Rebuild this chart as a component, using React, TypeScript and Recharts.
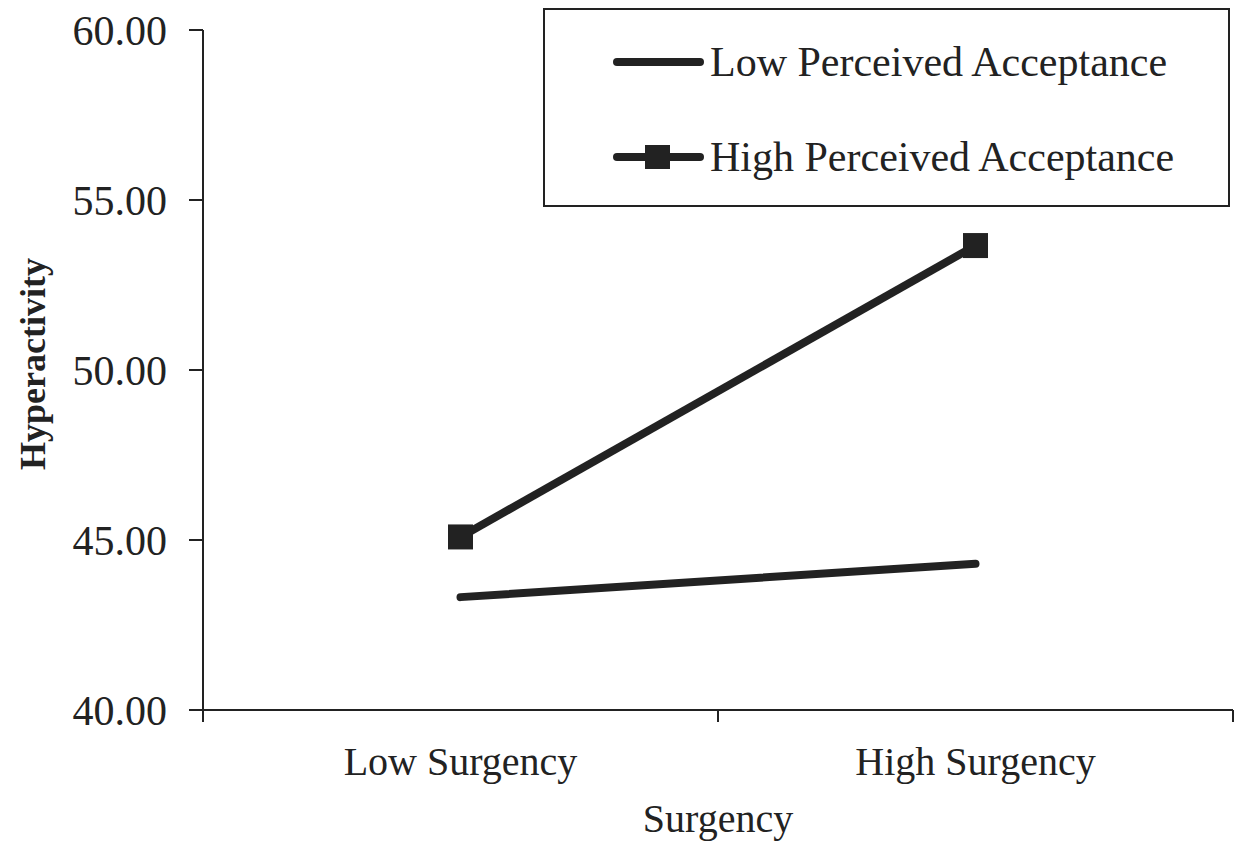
import { LineChart, Line, XAxis, YAxis, Legend } from 'recharts';

const categories = ['Low Surgency', 'High Surgency'];
const lowAcceptance = [43.32, 44.3];
const highAcceptance = [45.09, 53.66];
const yTicks = [40, 45, 50, 55, 60];
const seriesNames = ['Low Perceived Acceptance', 'High Perceived Acceptance'];

const INK = '#222';
const FONT = '"Liberation Serif", "Times New Roman", serif';

// category i sits in the middle of band [i, i+1]
const data = categories.map((name, i) => ({
  x: i + 0.5,
  name,
  low: lowAcceptance[i],
  high: highAcceptance[i],
}));

const xTicks = [0, 0.5, 1, 1.5, 2];

function XTick({ x, y, payload }: any) {
  const v = payload.value as number;
  if (Number.isInteger(v)) {
    return <line x1={x} y1={y - 12} x2={x} y2={y} stroke={INK} strokeWidth={2} />;
  }
  const label = categories[Math.floor(v)];
  return (
    <text x={x} y={y + 53} textAnchor="middle" fill={INK} fontSize={40} fontFamily={FONT}>
      {label}
    </text>
  );
}

function SquareDot({ cx, cy }: any) {
  if (cx == null || cy == null) return null;
  return <rect x={cx - 12.5} y={cy - 12.5} width={25} height={25} fill={INK} />;
}

function LegendBox() {
  const rows = [
    { y: 54, name: seriesNames[0], marker: false },
    { y: 149, name: seriesNames[1], marker: true },
  ];
  return (
    <svg width={687} height={199} style={{ display: 'block' }}>
      <rect x={1} y={1} width={685} height={197} fill="#fff" stroke={INK} strokeWidth={2} />
      {rows.map((r) => (
        <g key={r.name}>
          <line x1={74} y1={r.y} x2={157} y2={r.y} stroke={INK} strokeWidth={8} strokeLinecap="round" />
          {r.marker && <rect x={102} y={r.y - 12} width={25} height={24} fill={INK} />}
          <text x={167} y={r.y} dominantBaseline="central" fill={INK} fontSize={42} fontFamily={FONT}>
            {r.name}
          </text>
        </g>
      ))}
    </svg>
  );
}

export default function App() {
  return (
    <div style={{ position: 'absolute', left: 0, top: 0, background: '#fff' }}>
      <LineChart width={1242} height={843} data={data} margin={{ top: 30, right: 9, bottom: 0, left: 0 }}>
        <XAxis
          dataKey="x"
          type="number"
          domain={[0, 2]}
          ticks={xTicks}
          interval={0}
          height={133}
          tickSize={12}
          tickMargin={0}
          tickLine={false}
          tick={<XTick />}
          axisLine={{ stroke: INK, strokeWidth: 2 }}
          label={({ viewBox }: any) => (
            <text
              x={viewBox.x + viewBox.width / 2}
              y={viewBox.y + 122}
              textAnchor="middle"
              fill={INK}
              fontSize={40}
              fontFamily={FONT}
            >
              Surgency
            </text>
          )}
        />
        <YAxis
          domain={[40, 60]}
          ticks={yTicks}
          interval={0}
          width={203}
          tickSize={14}
          tickMargin={22}
          tickFormatter={(v: number) => v.toFixed(2)}
          tick={{ fill: INK, fontSize: 42, fontFamily: FONT }}
          tickLine={{ stroke: INK, strokeWidth: 2 }}
          axisLine={{ stroke: INK, strokeWidth: 2 }}
          label={({ viewBox }: any) => (
            <text
              x={33}
              y={viewBox.y + viewBox.height / 2 - 6}
              transform={`rotate(-90, 33, ${viewBox.y + viewBox.height / 2 - 6})`}
              textAnchor="middle"
              dominantBaseline="central"
              fill={INK}
              fontSize={36}
              fontWeight="bold"
              fontFamily={FONT}
            >
              Hyperactivity
            </text>
          )}
        />
        <Legend
          layout="horizontal"
          verticalAlign="middle"
          align="center"
          content={<LegendBox />}
          wrapperStyle={{ left: 543, top: 8, width: 687, height: 199 }}
        />
        <Line
          dataKey="low"
          name={seriesNames[0]}
          stroke={INK}
          strokeWidth={8}
          strokeLinecap="round"
          dot={false}
          activeDot={false}
          isAnimationActive={false}
        />
        <Line
          dataKey="high"
          name={seriesNames[1]}
          stroke={INK}
          strokeWidth={8}
          dot={<SquareDot />}
          activeDot={false}
          isAnimationActive={false}
        />
      </LineChart>
    </div>
  );
}
